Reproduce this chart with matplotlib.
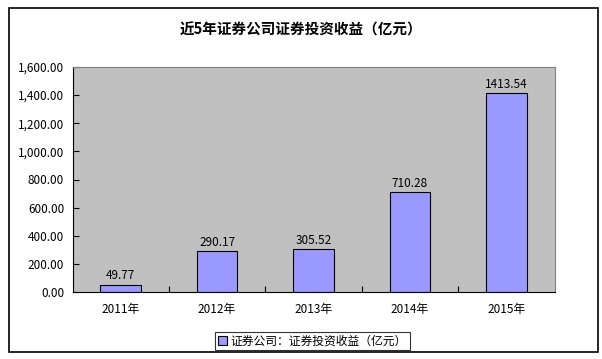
import matplotlib
matplotlib.use("Agg")
import matplotlib.pyplot as plt
from matplotlib.patches import Rectangle
from matplotlib.ticker import FuncFormatter, MultipleLocator

plt.rcParams['font.family'] = ['Noto Sans CJK SC', 'DejaVu Sans']

years = ["2011年", "2012年", "2013年", "2014年", "2015年"]
values = [49.77, 290.17, 305.52, 710.28, 1413.54]
labels = ["49.77", "290.17", "305.52", "710.28", "1413.54"]
title = "近5年证券公司证券投资收益（亿元）"
legend_label = "证券公司：证券投资收益（亿元）"

W, H = 602, 359
fig = plt.figure(figsize=(W / 100, H / 100), dpi=100)
fig.patch.set_facecolor("white")

# outer frame
fig.add_artist(Rectangle((9 / W, 1 - 352 / H), (598 - 9) / W, (352 - 8) / H,
                         transform=fig.transFigure, fill=False, edgecolor="black", lw=1.2))

left, right, top, bottom = 72.5, 554.5, 67, 292
ax = fig.add_axes([left / W, 1 - bottom / H, (right - left) / W, (bottom - top) / H])
ax.set_facecolor("#c0c0c0")
x = range(len(years))
ax.bar(x, values, width=0.42, color="#9999ff", edgecolor="black", linewidth=0.8,
       label=legend_label)
for xi, v, lab in zip(x, values, labels):
    ax.text(xi, v + 18, lab, ha="center", va="bottom", fontsize=8.5, color="black")

ax.set_xlim(-0.5, len(years) - 0.5)
ax.set_ylim(0, 1600)
ax.yaxis.set_major_locator(MultipleLocator(200))
ax.yaxis.set_major_formatter(FuncFormatter(lambda v, p: f"{v:,.2f}"))
ax.set_xticks([i + 0.5 for i in range(len(years) - 1)], minor=False)
ax.set_xticklabels([])
ax.set_xticks(list(x), minor=True)
ax.set_xticklabels(years, minor=True)
ax.tick_params(axis="x", which="minor", length=0, pad=8, labelsize=8.5)
ax.tick_params(axis="x", which="major", length=4, direction="in")
ax.tick_params(axis="y", direction="in", length=4, labelsize=8.5, pad=6)
for s in ["left", "bottom"]:
    ax.spines[s].set_linewidth(0.8)
for s in ["top", "right"]:
    ax.spines[s].set_color("#808080")
    ax.spines[s].set_linewidth(0.8)

fig.text(0.5, 1 - 30 / H, title, ha="center", va="center", fontsize=10.5, fontweight="bold")

leg = fig.legend(loc="center", bbox_to_anchor=(312.5 / W, 1 - 341 / H), fontsize=8.5,
                 frameon=True, fancybox=False, edgecolor="black", handlelength=0.8,
                 handleheight=0.8, handletextpad=0.3, borderpad=0.25)
leg.get_frame().set_linewidth(0.8)

fig.savefig("out.png", dpi=100)
